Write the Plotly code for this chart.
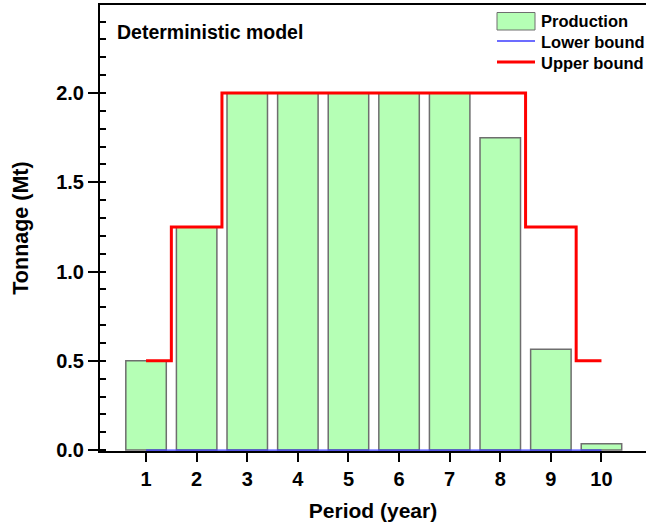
import plotly.graph_objects as go

periods = [1, 2, 3, 4, 5, 6, 7, 8, 9, 10]
production = [0.5, 1.25, 2.0, 2.0, 2.0, 2.0, 2.0, 1.75, 0.565, 0.035]
lower_bound = [0, 0, 0, 0, 0, 0, 0, 0, 0, 0]
upper_bound = [0.5, 1.25, 2.0, 2.0, 2.0, 2.0, 2.0, 2.0, 1.25, 0.5]
y_ticks = [0.0, 0.5, 1.0, 1.5, 2.0]
y_tick_labels = ["0.0", "0.5", "1.0", "1.5", "2.0"]
series_names = ["Production", "Lower bound", "Upper bound"]

FONT = "Liberation Sans, Arial, sans-serif"
BAR_FILL = "#b5ffb5"
BAR_EDGE = "#6e6e6e"
LOWER_COLOR = "#3b3bff"
UPPER_COLOR = "#ff0000"

# plot area in pixels: left 100, right 646, top 5, bottom 451
W, H = 646, 529
L, R, T, B = 100, 0, 5, 78


def px_x(x):
    return (x - L) / (W - L - R)


def px_y(y):
    return (H - B - y) / (H - B - T)


fig = go.Figure()
fig.add_trace(go.Bar(
    x=periods, y=production, name=series_names[0], width=0.8, showlegend=False,
    marker=dict(color=BAR_FILL, line=dict(color=BAR_EDGE, width=1.5)),
))
fig.add_trace(go.Scatter(
    x=periods, y=lower_bound, name=series_names[1], mode="lines", showlegend=False,
    line=dict(color=LOWER_COLOR, width=1.3, shape="hvh"),
))
fig.add_trace(go.Scatter(
    x=periods, y=upper_bound, name=series_names[2], mode="lines", showlegend=False,
    line=dict(color=UPPER_COLOR, width=3, shape="hvh"),
))

# legend in the upper right corner
row_y = [21, 42, 63]
fig.add_shape(type="rect", xref="paper", yref="paper",
              x0=px_x(497), x1=px_x(535), y0=px_y(30), y1=px_y(12.5),
              fillcolor=BAR_FILL, line=dict(color=BAR_EDGE, width=1))
fig.add_shape(type="line", xref="paper", yref="paper",
              x0=px_x(497), x1=px_x(535), y0=px_y(row_y[1] - 1), y1=px_y(row_y[1] - 1),
              line=dict(color=LOWER_COLOR, width=1.3))
fig.add_shape(type="line", xref="paper", yref="paper",
              x0=px_x(497), x1=px_x(535), y0=px_y(row_y[2] - 1), y1=px_y(row_y[2] - 1),
              line=dict(color=UPPER_COLOR, width=3))
for name, yc in zip(series_names, row_y):
    fig.add_annotation(
        text=f"<b>{name}</b>", xref="paper", yref="paper",
        x=px_x(539), y=px_y(yc), xanchor="left", yanchor="middle", showarrow=False,
        font=dict(family=FONT, size=16.5, color="black"),
    )

fig.add_annotation(
    text="<b>Deterministic model</b>", xref="paper", yref="paper",
    x=0.028, y=0.94, xanchor="left", yanchor="middle", showarrow=False,
    font=dict(family=FONT, size=19.5, color="black"),
)

fig.update_layout(
    width=W, height=H,
    margin=dict(l=L, r=R, t=T, b=B, autoexpand=False),
    plot_bgcolor="white", paper_bgcolor="white",
    font=dict(family=FONT, color="black"),
    showlegend=False,
    xaxis=dict(
        range=[0.09, 10.88], tickvals=periods, ticktext=[str(p) for p in periods],
        ticks="outside", ticklen=9, tickwidth=1.5, tickcolor="black",
        ticklabelstandoff=0,
        showline=True, linecolor="black", linewidth=2, mirror=True,
        showgrid=False, zeroline=False,
        tickfont=dict(family=FONT, size=20, color="black", weight="bold"),
        title=dict(text="<b>Period (year)</b>", font=dict(family=FONT, size=21, color="black"), standoff=14),
    ),
    yaxis=dict(
        range=[-0.005, 2.493], tickvals=y_ticks, ticktext=y_tick_labels,
        ticks="outside", ticklen=10, tickwidth=1.5, tickcolor="black",
        minor=dict(dtick=0.1, tick0=0, ticks="inside", ticklen=6, tickwidth=1.5, tickcolor="black", showgrid=False),
        showline=True, linecolor="black", linewidth=2,
        showgrid=False, zeroline=False,
        tickfont=dict(family=FONT, size=20, color="black", weight="bold"),
        title=dict(text="<b>Tonnage (Mt)</b>", font=dict(family=FONT, size=21.5, color="black"), standoff=22),
    ),
)

fig.write_html("out.html")
